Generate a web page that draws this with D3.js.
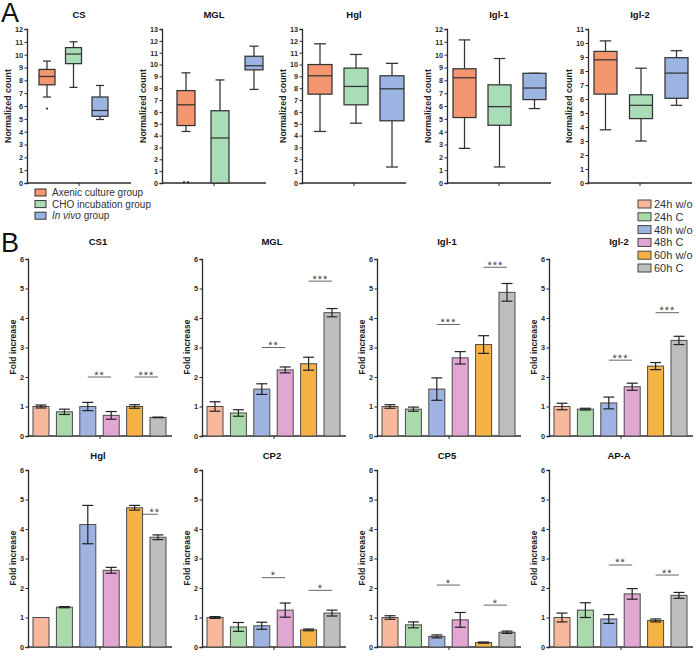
<!DOCTYPE html>
<html><head><meta charset="utf-8">
<script src="https://cdn.jsdelivr.net/npm/d3@7"></script>
<style>body{margin:0;background:#fff} svg{display:block} text{font-family:Arial,"Liberation Sans",sans-serif}</style>
</head><body><svg id="c" width="696" height="657"></svg>
<script>
// ================= Panel A data =================
const groupsA = ["Axenic culture group", "CHO incubation group", "In vivo group"];
const genesA = ["CS", "MGL", "Hgl", "Igl-1", "Igl-2"];
const yMaxA = [12, 13, 13, 12, 11];
// [lower whisker, Q1, median, Q3, upper whisker] for each group
const boxCS   = [[6.7, 7.65, 8.3, 8.85, 9.5], [7.45, 9.3, 10.05, 10.55, 11.0], [4.95, 5.2, 5.65, 6.7, 7.6]];
const boxMGL  = [[4.35, 4.85, 6.6, 7.8, 9.3], [0, 0, 3.8, 6.1, 8.7], [7.9, 9.55, 9.9, 10.7, 11.55]];
const boxHgl  = [[4.35, 7.5, 9.05, 10.0, 11.75], [5.05, 6.6, 8.15, 9.7, 10.85], [1.35, 5.25, 7.95, 9.05, 10.1]];
const boxIgl1 = [[2.7, 5.1, 8.2, 8.9, 11.15], [1.25, 4.5, 5.95, 7.65, 9.7], [5.8, 6.5, 7.4, 8.55, 8.55]];
const boxIgl2 = [[3.8, 6.35, 8.8, 9.4, 10.15], [3.0, 4.6, 5.55, 6.3, 8.2], [5.55, 6.05, 7.85, 8.95, 9.45]];
const outCS = [[5.8], [], []];
const outMGL = [[0, 0], [], []];
const outNone = [[], [], []];
const boxesA = [boxCS, boxMGL, boxHgl, boxIgl1, boxIgl2];
const outliersA = [outCS, outMGL, outNone, outNone, outNone];

// ================= Panel B data =================
const conditions = ["24h w/o", "24h C", "48h w/o", "48h C", "60h w/o", "60h C"];
const genesB = ["CS1", "MGL", "Igl-1", "Igl-2", "Hgl", "CP2", "CP5", "AP-A"];
const meanCS1 = [1.0, 0.82, 1.0, 0.70, 1.0, 0.63];
const errCS1  = [0.05, 0.09, 0.14, 0.13, 0.06, 0.01];
const meanMGL = [1.0, 0.78, 1.59, 2.24, 2.45, 4.18];
const errMGL  = [0.16, 0.11, 0.18, 0.1, 0.22, 0.14];
const meanIgl1 = [1.0, 0.91, 1.59, 2.65, 3.1, 4.87];
const errIgl1  = [0.06, 0.07, 0.38, 0.21, 0.3, 0.3];
const meanIgl2 = [1.0, 0.91, 1.12, 1.67, 2.37, 3.24];
const errIgl2  = [0.11, 0.03, 0.2, 0.12, 0.12, 0.14];
const meanHgl = [1.0, 1.35, 4.15, 2.6, 4.72, 3.72];
const errHgl  = [0, 0.02, 0.65, 0.1, 0.08, 0.08];
const meanCP2 = [1.0, 0.68, 0.72, 1.25, 0.58, 1.15];
const errCP2  = [0.03, 0.15, 0.12, 0.24, 0.03, 0.1];
const meanCP5 = [1.0, 0.75, 0.36, 0.92, 0.15, 0.5];
const errCP5  = [0.06, 0.1, 0.05, 0.25, 0.02, 0.04];
const meanAPA = [1.0, 1.25, 0.95, 1.8, 0.9, 1.75];
const errAPA  = [0.15, 0.25, 0.15, 0.18, 0.05, 0.1];
const meansB = [meanCS1, meanMGL, meanIgl1, meanIgl2, meanHgl, meanCP2, meanCP5, meanAPA];
const errsB  = [errCS1, errMGL, errIgl1, errIgl2, errHgl, errCP2, errCP5, errAPA];
// significance: [from condition, to condition, height, label]
const sigCS1 = [[2, 3, 2.0, "**"], [4, 5, 2.0, "***"]];
const sigMGL = [[2, 3, 3.0, "**"], [4, 5, 5.25, "***"]];
const sigIgl1 = [[2, 3, 3.78, "***"], [4, 5, 5.72, "***"]];
const sigIgl2 = [[2, 3, 2.57, "***"], [4, 5, 4.18, "***"]];
const sigHgl = [[4, 5, 4.5, "**"]];
const sigCP2 = [[2, 3, 2.35, "*"], [4, 5, 1.92, "*"]];
const sigCP5 = [[2, 3, 2.1, "*"], [4, 5, 1.42, "*"]];
const sigAPA = [[2, 3, 2.78, "**"], [4, 5, 2.44, "**"]];
const sigsB = [sigCS1, sigMGL, sigIgl1, sigIgl2, sigHgl, sigCP2, sigCP5, sigAPA];
const yTicksB = [0, 1, 2, 3, 4, 5, 6];

// ================= Styles =================
const colA = ["#F4966F", "#A8DDB8", "#9CB4E2"];
const colB = ["#F8B89B", "#AAD9AB", "#9EB3E2", "#E2A6D2", "#F6B244", "#BEBEBE"];
const ink = "#2b2b2b";

const svg = d3.select("#c");

// ---------- Panel A ----------
svg.append("text").attr("x", 1).attr("y", 22).attr("font-size", 27).attr("fill", "#111").text("A");
const axXA = [27, 162, 302, 447, 588];
const ptRangeA = [[20, 73], [24, 92], [18, 90], [17.5, 87.5], [17.5, 88.5]];
const boxWA = [16, 18, 24, 23, 23];
const axLenA = 104;
genesA.forEach((g, i) => {
  const x0 = axXA[i];
  const y = d3.scaleLinear().domain([0, yMaxA[i]]).range([183, 29]);
  const x = d3.scalePoint().domain(groupsA).range([x0 + ptRangeA[i][0], x0 + ptRangeA[i][1]]);
  const gp = svg.append("g");
  const ya = gp.append("g").attr("transform", `translate(${x0},0)`)
    .call(d3.axisLeft(y).ticks(yMaxA[i]).tickFormat(d3.format("d")).tickSize(2.5).tickPadding(1.5));
  ya.select(".domain").attr("stroke", ink).attr("stroke-width", 1.3);
  ya.selectAll(".tick line").attr("stroke", ink).attr("stroke-width", 1);
  ya.selectAll(".tick text").attr("font-size", 7.3).attr("font-weight", "bold").attr("fill", ink).attr("font-family", "Arial, Liberation Sans");
  gp.append("line").attr("x1", x0).attr("x2", x0 + axLenA).attr("y1", 183).attr("y2", 183).attr("stroke", ink).attr("stroke-width", 1.3);
  gp.append("line").attr("x1", x0 + axLenA / 2).attr("x2", x0 + axLenA / 2).attr("y1", 183).attr("y2", 186).attr("stroke", ink).attr("stroke-width", 1);
  gp.append("text").attr("x", x0 + 52).attr("y", 18).attr("text-anchor", "middle").attr("font-size", 9.5).attr("font-weight", "bold").attr("fill", "#111").text(g);
  gp.append("text").attr("transform", `translate(${x0 - 19},${(183 + 29) / 2}) rotate(-90)`).attr("text-anchor", "middle")
    .attr("dy", "0.35em").attr("font-size", 8.8).attr("font-weight", "bold").attr("fill", "#222").text("Normalized count");
  boxesA[i].forEach((b, j) => {
    const cx = x(groupsA[j]);
    const w = boxWA[i];
    const cap = w * 0.5;
    const ln = (x1, x2, y1, y2) => gp.append("line").attr("x1", x1).attr("x2", x2).attr("y1", y1).attr("y2", y2).attr("stroke", "#333").attr("stroke-width", 1.25);
    ln(cx, cx, y(b[0]), y(b[1]));
    ln(cx, cx, y(b[3]), y(b[4]));
    ln(cx - cap / 2, cx + cap / 2, y(b[0]), y(b[0]));
    ln(cx - cap / 2, cx + cap / 2, y(b[4]), y(b[4]));
    gp.append("rect").attr("x", cx - w / 2).attr("y", y(b[3])).attr("width", w).attr("height", Math.max(0, y(b[1]) - y(b[3])))
      .attr("fill", colA[j]).attr("stroke", "#333").attr("stroke-width", 1.25);
    ln(cx - w / 2, cx + w / 2, y(b[2]), y(b[2]));
    outliersA[i][j].forEach((o, k, arr) => {
      const off = (k - (arr.length - 1) / 2) * 4;
      gp.append("circle").attr("cx", cx + off).attr("cy", y(o) - (o === 0 ? 0.8 : 0)).attr("r", 1.1).attr("fill", "#333");
    });
  });
});
// legend A
groupsA.forEach((g, j) => {
  const yy = 192.5 + j * 11.6;
  svg.append("rect").attr("x", 35).attr("y", yy - 3.5).attr("width", 11).attr("height", 7).attr("fill", colA[j]).attr("stroke", "#333").attr("stroke-width", 1);
  const t = svg.append("text").attr("x", 52).attr("y", yy).attr("dy", "0.35em").attr("font-size", 10).attr("fill", "#333");
  if (j === 2) { t.append("tspan").attr("font-style", "italic").text("In vivo"); t.append("tspan").text(" group"); }
  else t.text(g);
});

// ---------- Panel B ----------
svg.append("text").attr("x", 1).attr("y", 252).attr("font-size", 27).attr("fill", "#111").text("B");
conditions.forEach((c, k) => {
  const yy = 204 + k * 12.8;
  svg.append("rect").attr("x", 638).attr("y", yy - 4).attr("width", 13).attr("height", 8).attr("fill", colB[k]).attr("stroke", "#444").attr("stroke-width", 1);
  svg.append("text").attr("x", 654).attr("y", yy).attr("dy", "0.36em").attr("font-size", 11).attr("font-family", "Lato, Open Sans, sans-serif").attr("fill", "#333").text(c);
});
const axXB = [28, 202, 377, 549];
const zeroB = [436, 647];
const titleYB = [245, 459];
const axLenB = 144;
genesB.forEach((g, i) => {
  const row = Math.floor(i / 4), col = i % 4;
  const x0 = axXB[col], y0 = zeroB[row];
  const y = d3.scaleLinear().domain([0, 6]).range([y0, y0 - 177]);
  const x = d3.scaleBand().domain(conditions).range([x0 + 5, x0 + 138]).paddingInner(0.316).paddingOuter(0);
  const gp = svg.append("g");
  const ya = gp.append("g").attr("transform", `translate(${x0},0)`)
    .call(d3.axisLeft(y).tickValues(yTicksB).tickFormat(d3.format("d")).tickSize(2.5).tickPadding(1.5));
  ya.select(".domain").attr("stroke", ink).attr("stroke-width", 1.3);
  ya.selectAll(".tick line").attr("stroke", ink);
  ya.selectAll(".tick text").attr("font-size", 7.3).attr("font-weight", "bold").attr("fill", ink).attr("font-family", "Arial, Liberation Sans");
  gp.append("line").attr("x1", x0).attr("x2", x0 + axLenB).attr("y1", y0).attr("y2", y0).attr("stroke", ink).attr("stroke-width", 1.3);
  gp.append("line").attr("x1", x0 + axLenB / 2).attr("x2", x0 + axLenB / 2).attr("y1", y0).attr("y2", y0 + 3).attr("stroke", ink).attr("stroke-width", 1);
  gp.append("text").attr("x", x0 + 70).attr("y", titleYB[row]).attr("text-anchor", "middle").attr("font-size", 9.5).attr("font-weight", "bold").attr("fill", "#111").text(g);
  gp.append("text").attr("transform", `translate(${x0 - 15},${y0 - 89}) rotate(-90)`).attr("text-anchor", "middle")
    .attr("dy", "0.35em").attr("font-size", 8.5).attr("font-weight", "bold").attr("fill", "#222").text("Fold increase");
  // significance marks (drawn beneath bars)
  sigsB[i].forEach(s => {
    const bw = x.bandwidth();
    const xa = x(conditions[s[0]]) + bw / 2, xb = x(conditions[s[1]]) + bw / 2;
    gp.append("line").attr("x1", xa).attr("x2", xb).attr("y1", y(s[2])).attr("y2", y(s[2])).attr("stroke", "#666").attr("stroke-width", 1);
    // centre the stars over the part of the line that stays visible
    const fromTop = meansB[i][s[0]] + errsB[i][s[0]];
    const visStart = fromTop > s[2] ? x(conditions[s[0]]) + bw + 1 : xa;
    gp.append("text").attr("x", (visStart + xb) / 2 + (fromTop > s[2] ? 4 : 0)).attr("y", y(s[2]) + 1.5).attr("text-anchor", "middle")
      .attr("font-size", 11).attr("letter-spacing", 1).attr("fill", "#444").attr("font-family", "DejaVu Sans, sans-serif")
      .style("text-rendering", "geometricPrecision").text(s[3]);
  });
  meansB[i].forEach((m, k) => {
    const bx = x(conditions[k]), bw = x.bandwidth(), cx = bx + bw / 2;
    gp.append("rect").attr("x", bx).attr("y", y(m)).attr("width", bw).attr("height", y0 - y(m))
      .attr("fill", colB[k]).attr("stroke", "#4a4a4a").attr("stroke-width", 1);
    const e = errsB[i][k];
    if (e > 0) {
      const cw = 5.5;
      gp.append("line").attr("x1", cx).attr("x2", cx).attr("y1", y(m - e)).attr("y2", y(m + e)).attr("stroke", "#222").attr("stroke-width", 1.2);
      [m - e, m + e].forEach(v => gp.append("line").attr("x1", cx - cw).attr("x2", cx + cw).attr("y1", y(v)).attr("y2", y(v)).attr("stroke", "#222").attr("stroke-width", 1.2));
    }
  });
});
</script></body></html>
